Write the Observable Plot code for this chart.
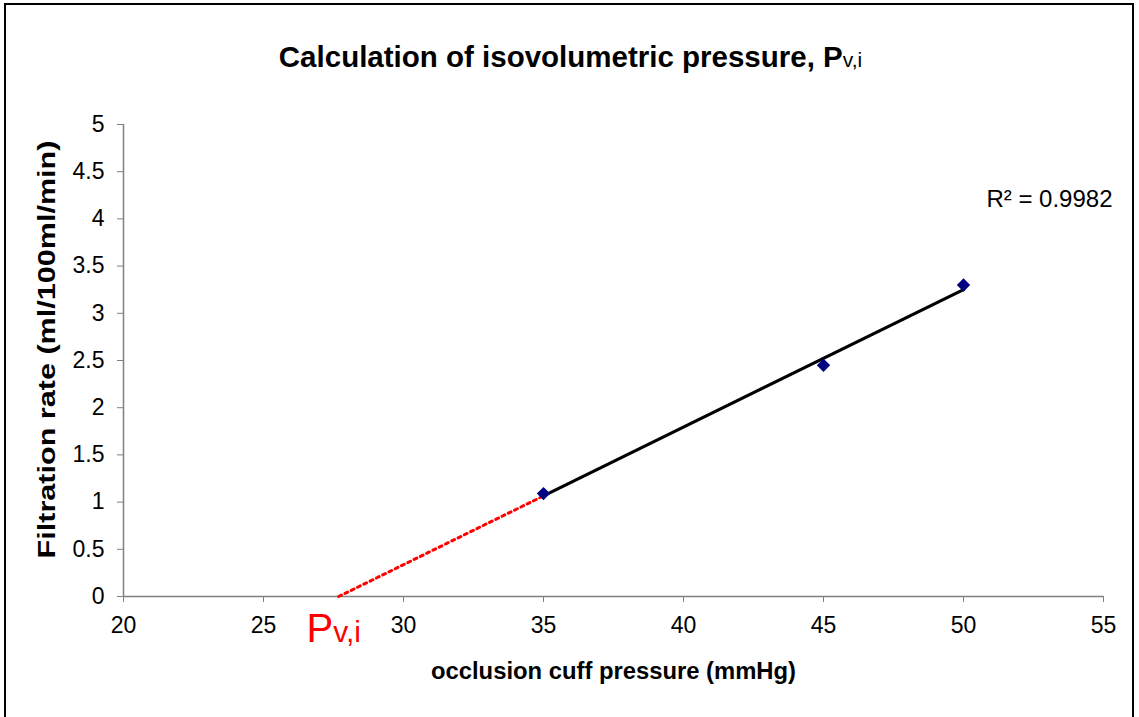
<!DOCTYPE html>
<html>
<head>
<meta charset="utf-8">
<script src="https://cdn.jsdelivr.net/npm/d3@7"></script>
<script src="https://cdn.jsdelivr.net/npm/@observablehq/plot@0.6"></script>
<style>
  html, body { margin: 0; padding: 0; background: #fff; }
  #wrap { position: relative; width: 1139px; height: 717px; overflow: hidden; font-family: "Liberation Sans", Arial, sans-serif; }
  #frame { position: absolute; left: 4px; top: 3px; width: 1130px; height: 730px; border: 2px solid #000; box-sizing: border-box; pointer-events: none; }
  #wrap svg { position: absolute; left: 0; top: 0; }
</style>
</head>
<body>
<div id="wrap"><div id="frame"></div></div>
<script>
// ---- data ----
const cuffPressure = [35, 45, 50];          // mmHg
const filtrationRate = [1.09, 2.45, 3.30];  // ml/100ml/min
const xTicks = [20, 25, 30, 35, 40, 45, 50, 55];
const yTicks = [0, 0.5, 1, 1.5, 2, 2.5, 3, 3.5, 4, 4.5, 5];
const titleText = "Calculation of isovolumetric pressure, Pv,i";
const xLabel = "occlusion cuff pressure (mmHg)";
const yLabel = "Filtration rate (ml/100ml/min)";
const r2Label = "R² = 0.9982";
const pviLabel = "Pv,i";

// ---- linear regression (trendline) ----
const mx = d3.mean(cuffPressure), my = d3.mean(filtrationRate);
const sxy = d3.sum(cuffPressure, (x, i) => (x - mx) * (filtrationRate[i] - my));
const sxx = d3.sum(cuffPressure, x => (x - mx) ** 2);
const slope = sxy / sxx, intercept = my - slope * mx;
const xZero = -intercept / slope;
const points = cuffPressure.map((x, i) => ({x, y: filtrationRate[i]}));
const xMin = d3.min(cuffPressure), xMax = d3.max(cuffPressure);
const trend = [xMin, xMax].map(x => ({x, y: intercept + slope * x}));
const extrap = [xZero, xMin].map(x => ({x, y: intercept + slope * x}));

const font = "'Liberation Sans', Arial, sans-serif";
const plot = Plot.plot({
  width: 1139,
  height: 717,
  marginLeft: 123,
  marginRight: 36,
  marginTop: 124,
  marginBottom: 121,
  style: {fontFamily: font, background: "transparent", overflow: "visible"},
  x: {domain: [20, 55]},
  y: {domain: [0, 5]},
  marks: [
    Plot.axisX({ticks: xTicks, tickSize: 6, tickPadding: 14, stroke: "#808080", fontSize: 23, label: null, fill: "#000", tickFormat: d => String(d)}),
    Plot.axisY({ticks: yTicks, tickSize: 6, tickPadding: 13, stroke: "#808080", fontSize: 23, label: null, fill: "#000", tickFormat: d => String(d)}),
    Plot.ruleY([0], {stroke: "#808080", strokeWidth: 1.5}),
    Plot.ruleX([20], {stroke: "#808080", strokeWidth: 1.5}),
    Plot.line(extrap, {x: "x", y: "y", stroke: "#ff0000", strokeWidth: 3, strokeDasharray: "3 4"}),
    Plot.line(trend, {x: "x", y: "y", stroke: "#000", strokeWidth: 3.2}),
    Plot.dot(points, {x: "x", y: "y", symbol: "diamond2", r: 6, fill: "#000080", stroke: "none"}),
    Plot.text([titleText], {frameAnchor: "top", dx: -43, dy: -78, fontSize: 29.5, fontWeight: "bold", fill: "#000"}),
    Plot.text([xLabel], {frameAnchor: "bottom", dy: 82, fontSize: 23, fontWeight: "bold", fill: "#000"}),
    Plot.text([yLabel], {frameAnchor: "left", textAnchor: "middle", rotate: -90, dx: -76, dy: -11, fontSize: 23, fontWeight: "bold", fill: "#000"}),
    Plot.text([r2Label], {frameAnchor: "top-right", textAnchor: "end", dx: 9, dy: 65, fontSize: 24, fill: "#000"}),
    Plot.text([{x: xZero, y: 0, t: pviLabel}], {x: "x", y: "y", text: "t", dx: -5, dy: 33, fill: "#ff0000", fontSize: 40})
  ]
});

// style sub-parts (subscripts, stretched axis labels)
const svg = d3.select(plot);
svg.selectAll("text").each(function() {
  const t = d3.select(this);
  const s = this.textContent;
  if (s === pviLabel) {
    t.text(null);
    t.append("tspan").text("P");
    t.append("tspan").attr("font-size", 30).text("v,i");
  } else if (s === titleText) {
    t.text(null);
    t.append("tspan").text("Calculation of isovolumetric pressure, P");
    t.append("tspan").attr("font-size", 21).attr("font-weight", "normal").text("v,i");
  } else if (s === yLabel) {
    const tr = t.attr("transform") || "";
    t.attr("transform", tr + " scale(1.33,1)");
  } else if (s === xLabel) {
    t.attr("textLength", 365).attr("lengthAdjust", "spacingAndGlyphs");
  }
});
document.getElementById("wrap").appendChild(plot);
</script>
</body>
</html>
